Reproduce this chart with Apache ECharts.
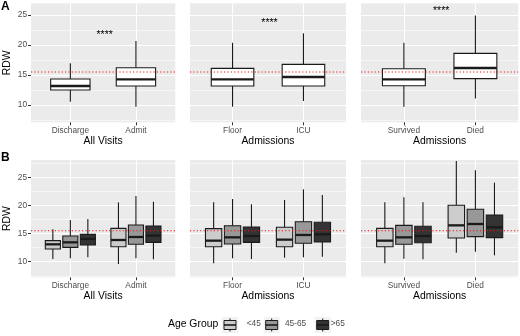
<!DOCTYPE html>
<html><head><meta charset="utf-8">
<script src="https://cdn.jsdelivr.net/npm/echarts@6/dist/echarts.min.js"></script>
<style>html,body{margin:0;padding:0;background:#fff}#c{width:520px;height:336px}</style>
</head><body><div id="c"></div>
<script>
const FONT = 'Liberation Sans, Arial, Helvetica, sans-serif';

// ---------- data ----------
const panelNames = ['All Visits', 'Admissions', 'Admissions'];
const categoriesVisits = ['Discharge', 'Admit'];
const categoriesWard = ['Floor', 'ICU'];
const categoriesOutcome = ['Survived', 'Died'];
const ageGroups = ['<45', '45-65', '>65'];
const legendTitle = 'Age Group';
const yAxisTitle = 'RDW';
const yTickValues = [10, 15, 20, 25];
const yMinorTop = [7.5, 12.5, 17.5, 22.5];
const yMinorBottom = [7.5, 12.5, 17.5, 22.5, 27.5];
const yRangeTop = [7.12, 26.95];
const yRangeBottom = [7.23, 28.07];
const referenceRDW = 15.5;
const starsLabel = '****';
const starsY = [22.1, 24.0, 26.1];

// box stats: [low whisker, q1, median, q3, high whisker]
const topVisits = [[10.55, 12.5, 13.17, 14.33, 16.95], [9.72, 13.17, 14.28, 16.2, 20.67]];
const topWard = [[9.72, 13.17, 14.28, 16.1, 20.38], [10.67, 13.17, 14.67, 16.78, 21.95]];
const topOutcome = [[9.72, 13.2, 14.28, 16.05, 20.38], [11.1, 14.39, 16.17, 18.6, 24.9]];

// bottom: [category][age group] -> [low, q1, median, q3, high]
const bottomVisits = [
  [[10.48, 12.26, 13.09, 13.74, 15.75], [10.6, 12.55, 13.44, 14.57, 17.41], [10.78, 12.97, 14.04, 14.86, 17.59]],
  [[9.59, 12.67, 13.86, 15.93, 20.55], [10.6, 13.09, 14.39, 16.52, 21.68], [10.42, 13.44, 14.63, 16.35, 20.67]]
];
const bottomWard = [
  [[9.71, 12.67, 13.74, 15.87, 20.55], [10.6, 13.15, 14.33, 16.4, 21.14], [10.48, 13.44, 14.57, 16.17, 20.2]],
  [[10.72, 12.67, 13.92, 16.11, 20.97], [10.78, 13.27, 14.75, 17.11, 22.86], [10.9, 13.5, 14.86, 17.0, 21.85]]
];
const bottomOutcome = [
  [[9.71, 12.67, 13.74, 15.93, 20.55], [10.54, 13.09, 14.33, 16.46, 21.44], [10.42, 13.38, 14.57, 16.29, 20.55]],
  [[11.61, 14.21, 16.46, 20.02, 27.9], [11.78, 14.45, 16.7, 19.31, 26.24], [11.13, 14.27, 16.11, 18.3, 24.05]]
];

// ---------- styling / layout ----------
const GROUP_FILLS = ['#CCCCCC', '#989898', '#333333'];
const EDGE = '#1a1a1a';
const PANEL_BG = '#EBEBEB';
const REF_COLOR = '#F01515';
const BOX_W = 0.6, BOX_W_DODGE = 0.23, DODGE = 0.2667;
const X_LIMITS = [0.4, 2.6];
const colLayout = [{ left: 31, width: 144.3 }, { left: 190, width: 156 }, { left: 361, width: 157.3 }];
const rowLayout = [{ top: 3.3, height: 119 }, { top: 160, height: 117.3 }];
const categorySets = [categoriesVisits, categoriesWard, categoriesOutcome];
const topSets = [topVisits, topWard, topOutcome];
const bottomSets = [bottomVisits, bottomWard, bottomOutcome];

function makeRender(dodged) {
  return function (params, api) {
    const ci = api.value(0), gi = api.value(1);
    const lo = api.value(2), q1 = api.value(3), md = api.value(4), q3 = api.value(5), hi = api.value(6);
    const xc = ci + 1 + (dodged ? (gi - 1) * DODGE : 0);
    const hw = (dodged ? BOX_W_DODGE : BOX_W) / 2;
    const tl = api.coord([xc - hw, q3]);
    const br = api.coord([xc + hw, q1]);
    const pHi = api.coord([xc, hi]), pQ3 = api.coord([xc, q3]);
    const pQ1 = api.coord([xc, q1]), pLo = api.coord([xc, lo]);
    const mL = api.coord([xc - hw, md]), mR = api.coord([xc + hw, md]);
    const fill = dodged ? GROUP_FILLS[gi] : '#FFFFFF';
    return {
      type: 'group', children: [
        { type: 'line', shape: { x1: pHi[0], y1: pHi[1], x2: pQ3[0], y2: pQ3[1] }, style: { stroke: EDGE, lineWidth: 1.1 } },
        { type: 'line', shape: { x1: pQ1[0], y1: pQ1[1], x2: pLo[0], y2: pLo[1] }, style: { stroke: EDGE, lineWidth: 1.1 } },
        { type: 'rect', shape: { x: tl[0], y: tl[1], width: br[0] - tl[0], height: br[1] - tl[1] }, style: { fill: fill, stroke: EDGE, lineWidth: 1.1 } },
        { type: 'line', shape: { x1: mL[0], y1: mL[1], x2: mR[0], y2: mR[1] }, style: { stroke: EDGE, lineWidth: 2.3 } }
      ]
    };
  };
}

const grids = [], xAxes = [], yAxes = [], series = [];
for (let row = 0; row < 2; row++) {
  for (let col = 0; col < 3; col++) {
    const gi = row * 3 + col;
    const yr = row === 0 ? yRangeTop : yRangeBottom;
    grids.push({
      left: colLayout[col].left, width: colLayout[col].width,
      top: rowLayout[row].top, height: rowLayout[row].height,
      show: true, backgroundColor: PANEL_BG, borderWidth: 0
    });
    const cats = categorySets[col];
    xAxes.push({
      gridIndex: gi, type: 'value', min: X_LIMITS[0], max: X_LIMITS[1],
      axisLine: { show: false },
      axisTick: { show: true, customValues: [1, 2], length: 3, lineStyle: { color: '#333', width: 1 } },
      axisLabel: { customValues: [1, 2], formatter: v => cats[Math.round(v) - 1], color: '#4D4D4D', fontSize: 8.3, margin: 4, fontFamily: FONT },
      splitLine: { show: true, lineStyle: { color: '#FFFFFF', width: 1.1 } },
      name: panelNames[col], nameLocation: 'middle', nameGap: 14,
      nameTextStyle: { color: '#000', fontSize: 10.4, fontFamily: FONT }
    });
    yAxes.push({
      gridIndex: gi, type: 'value', min: yr[0], max: yr[1], position: 'left',
      axisLine: { show: false },
      axisTick: { show: col === 0, customValues: yTickValues, length: 3, lineStyle: { color: '#333', width: 1 } },
      axisLabel: { show: col === 0, customValues: yTickValues, color: '#4D4D4D', fontSize: 8.3, margin: 4, fontFamily: FONT },
      splitLine: { show: true, lineStyle: { color: '#FFFFFF', width: 1.1 } },
      name: col === 0 ? yAxisTitle : '', nameLocation: 'middle', nameGap: 19,
      nameTextStyle: { color: '#000', fontSize: 10.4, fontFamily: FONT }
    });
    yAxes.push({
      gridIndex: gi, type: 'value', min: yr[0], max: yr[1], position: 'right',
      axisLine: { show: false },
      axisTick: { show: false, customValues: row === 0 ? yMinorTop : yMinorBottom },
      axisLabel: { show: false, customValues: row === 0 ? yMinorTop : yMinorBottom },
      splitLine: { show: true, lineStyle: { color: '#FFFFFF', width: 0.55 } }
    });
    const data = [];
    if (row === 0) {
      topSets[col].forEach((s, ci) => data.push([ci, 1].concat(s)));
    } else {
      bottomSets[col].forEach((grp, ci) => grp.forEach((s, g) => data.push([ci, g].concat(s))));
    }
    series.push({
      type: 'custom', xAxisIndex: gi, yAxisIndex: gi * 2,
      renderItem: makeRender(row === 1), data: data, z: 3,
      encode: { x: 0, y: [2, 3, 4, 5, 6] }
    });
    // reference line across the whole panel
    series.push({
      type: 'line', xAxisIndex: gi, yAxisIndex: gi * 2, z: 8,
      data: [[X_LIMITS[0], referenceRDW], [X_LIMITS[1], referenceRDW]],
      symbol: 'none', silent: true, animation: false,
      lineStyle: { color: REF_COLOR, type: [1.2, 2.2], width: 1.1 },
      itemStyle: { color: REF_COLOR }
    });
    if (row === 0) {
      series.push({
        type: 'custom', xAxisIndex: gi, yAxisIndex: gi * 2, z: 6,
        data: [[1.5, starsY[col]]],
        renderItem: function (params, api) {
          const p = api.coord([api.value(0), api.value(1)]);
          return { type: 'text', x: p[0] + 1.5, y: p[1] + 2.5,
            style: { text: starsLabel, fill: '#000', fontSize: 10.5, fontFamily: FONT, align: 'center', verticalAlign: 'middle' } };
        }
      });
    }
  }
}

// legend drawn as graphic
const legendY = 325;
const keyCenters = [230, 271.7, 322.7];
const labelLefts = [246.7, 285, 330.7];
const legendGraphics = [{
  type: 'text', left: 168, top: legendY - 6,
  style: { text: legendTitle, fill: '#000', fontSize: 10.4, fontFamily: FONT }
}];
ageGroups.forEach((g, i) => {
  const cx = keyCenters[i];
  legendGraphics.push({ type: 'rect', shape: { x: cx - 8, y: legendY - 8, width: 16, height: 16 }, style: { fill: '#F2F2F2' } });
  legendGraphics.push({ type: 'line', shape: { x1: cx, y1: legendY - 6.5, x2: cx, y2: legendY + 6.5 }, style: { stroke: EDGE, lineWidth: 1 } });
  legendGraphics.push({ type: 'rect', shape: { x: cx - 6, y: legendY - 4.5, width: 12, height: 9 }, style: { fill: GROUP_FILLS[i], stroke: EDGE, lineWidth: 1 } });
  legendGraphics.push({ type: 'line', shape: { x1: cx - 6, y1: legendY, x2: cx + 6, y2: legendY }, style: { stroke: EDGE, lineWidth: 1.6 } });
  legendGraphics.push({ type: 'text', left: labelLefts[i], top: legendY - 5, style: { text: g, fill: '#4D4D4D', fontSize: 8.3, fontFamily: FONT } });
});

const chart = echarts.init(document.getElementById('c'), null, { renderer: 'canvas' });
chart.setOption({
  animation: false,
  backgroundColor: '#FFFFFF',
  title: [
    { text: 'A', left: 1, top: 1, padding: 0, textStyle: { fontSize: 12, fontWeight: 'bold', fontFamily: FONT, color: '#000' } },
    { text: 'B', left: 1, top: 152, padding: 0, textStyle: { fontSize: 12, fontWeight: 'bold', fontFamily: FONT, color: '#000' } }
  ],
  grid: grids, xAxis: xAxes, yAxis: yAxes, series: series,
  graphic: legendGraphics
});
</script></body></html>
